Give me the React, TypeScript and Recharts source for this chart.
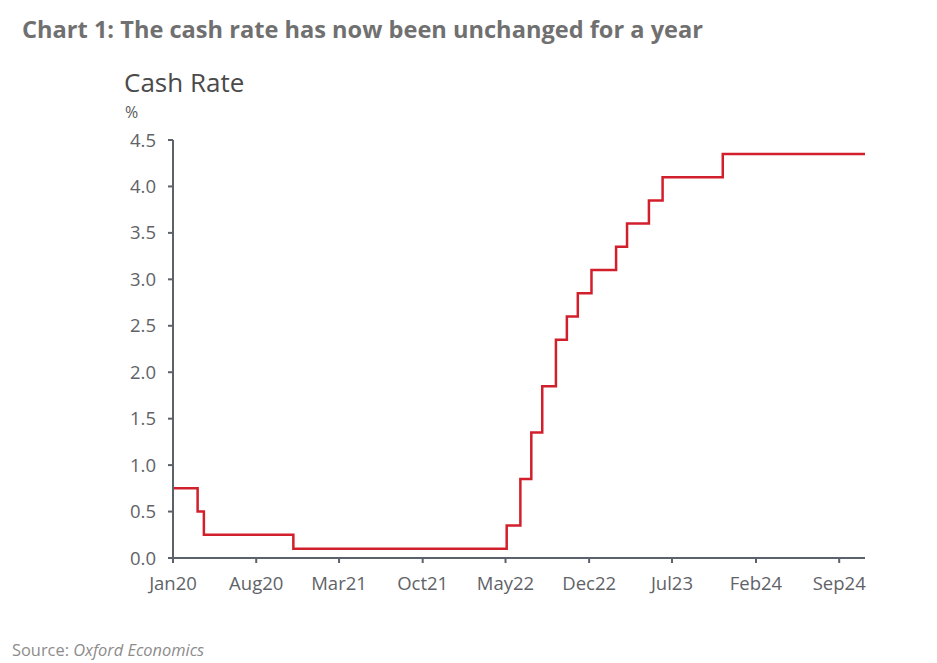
import React from "react";
import { LineChart, Line, XAxis, YAxis } from "recharts";

// RBA cash rate decision dates and the rate set at each
const changeDates = [
  "2020-01-01",
  "2020-03-04",
  "2020-03-20",
  "2020-11-04",
  "2022-05-04",
  "2022-06-08",
  "2022-07-06",
  "2022-08-03",
  "2022-09-07",
  "2022-10-05",
  "2022-11-02",
  "2022-12-07",
  "2023-02-08",
  "2023-03-08",
  "2023-05-03",
  "2023-06-07",
  "2023-11-08",
  "2024-11-06",
];
const rates = [
  0.75, 0.5, 0.25, 0.1, 0.35, 0.85, 1.35, 1.85, 2.35, 2.6, 2.85, 3.1, 3.35,
  3.6, 3.85, 4.1, 4.35, 4.35,
];

const tickDates = [
  "2020-01-01",
  "2020-08-01",
  "2021-03-01",
  "2021-10-01",
  "2022-05-01",
  "2022-12-01",
  "2023-07-01",
  "2024-02-01",
  "2024-09-01",
];
const tickLabels = ["Jan20", "Aug20", "Mar21", "Oct21", "May22", "Dec22", "Jul23", "Feb24", "Sep24"];
const yTicks = [0, 0.5, 1, 1.5, 2, 2.5, 3, 3.5, 4, 4.5];

const data = changeDates.map((d, i) => ({ t: Date.parse(d), rate: rates[i] }));
const xTicks = tickDates.map((d) => Date.parse(d));

const FONT = "'Segoe UI', 'Open Sans', 'Noto Sans', sans-serif";
const AXIS = "#5b626b";
const TICK_TEXT = "#5f6368";

export default function App() {
  return (
    <div
      style={{
        position: "absolute",
        left: 0,
        top: 0,
        width: 937,
        height: 663,
        background: "#fff",
        fontFamily: FONT,
        overflow: "hidden",
      }}
    >
      <div
        style={{
          position: "absolute",
          left: 22,
          top: 13,
          fontSize: 23.6,
          fontWeight: 700,
          color: "#707070",
          whiteSpace: "nowrap",
        }}
      >
        Chart 1: The cash rate has now been unchanged for a year
      </div>
      <div style={{ position: "absolute", left: 124, top: 64, fontSize: 26, color: "#4a4a4a" }}>
        Cash Rate
      </div>
      <div style={{ position: "absolute", left: 125, top: 101, fontSize: 16, color: "#5a5a5a" }}>%</div>
      <div style={{ position: "absolute", left: 12, top: 638, fontSize: 16.4, color: "#8c8c8c" }}>
        Source: <i>Oxford Economics</i>
      </div>
      <div style={{ position: "absolute", left: 0, top: 0 }}>
        <LineChart width={937} height={663} data={data} margin={{ top: 140, right: 72, bottom: 75, left: 0 }}>
          <XAxis
            dataKey="t"
            type="number"
            scale="time"
            domain={[data[0].t, data[data.length - 1].t]}
            ticks={xTicks}
            tickFormatter={(v: number) => tickLabels[xTicks.indexOf(v)] ?? ""}
            height={30}
            stroke={AXIS}
            strokeWidth={2}
            tickSize={5}
            tickMargin={14}
            tick={{ fill: TICK_TEXT, fontSize: 18.5, fontFamily: FONT }}
          />
          <YAxis
            type="number"
            domain={[0, 4.5]}
            ticks={yTicks}
            tickFormatter={(v: number) => v.toFixed(1)}
            width={173}
            stroke={AXIS}
            strokeWidth={2}
            tickSize={5}
            tickMargin={12}
            tick={{ fill: TICK_TEXT, fontSize: 18.5, fontFamily: FONT }}
          />
          <Line
            type="stepAfter"
            dataKey="rate"
            stroke="#d21f2c"
            strokeWidth={2.5}
            dot={false}
            isAnimationActive={false}
          />
        </LineChart>
      </div>
    </div>
  );
}
